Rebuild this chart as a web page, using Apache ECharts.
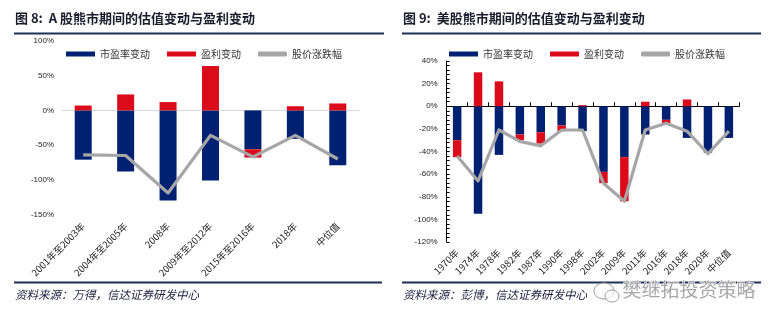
<!DOCTYPE html>
<html>
<head>
<meta charset="utf-8">
<script src="https://cdn.jsdelivr.net/npm/echarts@6/dist/echarts.min.js"></script>
<style>
  html, body { margin: 0; padding: 0; background: #fff; }
  #chart { width: 781px; height: 325px; }
</style>
</head>
<body>
<div id="chart"></div>
<script>
// A-share bear markets
const cnCategories = ['2001年至2003年', '2004年至2005年', '2008年', '2009年至2012年', '2015年至2016年', '2018年', '中位值'];
const cnPeChange = [-71, -88, -130, -101, -56, -41, -79];
const cnEarningsChange = [7, 23, 12, 64, -12, 6, 10];
const cnPriceChange = [-64, -65, -119, -36, -67, -36, -70];

// US bear markets
const usCategories = ['1970年', '1974年', '1978年', '1982年', '1987年', '1990年', '1998年', '2002年', '2009年', '2011年', '2016年', '2018年', '2020年', '中位值'];
const usPeChange = [-30, -95, -43, -25, -23, -17, -22, -58, -45, -25, -12, -28, -41, -28];
const usEarningsChange = [-15, 30, 22, -5, -10, -5, 1, -10, -39, 4, -3, 6, 0, 0];
const usPriceChange = [-44, -66, -21, -31, -35, -21, -21, -68, -84, -21, -15, -22, -42, -22];

const seriesNames = ['市盈率变动', '盈利变动', '股价涨跌幅'];

const NAVY = '#002072';
const RED = '#dc0b1c';
const GRAY = '#a6a6a6';
const RULE = '#1f2f55';
const CJK = '"Noto Sans CJK SC", "Liberation Sans", sans-serif';
const NUM = '"Liberation Sans", Arial, sans-serif';

const chart = echarts.init(document.getElementById('chart'), null, { renderer: 'canvas' });

function legendFor(left) {
  return {
    left: left, top: 44,
    itemWidth: 29, itemHeight: 5, itemGap: 17,
    textStyle: { fontFamily: CJK, fontSize: 10, color: '#333' },
    data: [
      { name: seriesNames[0], icon: 'rect' },
      { name: seriesNames[1], icon: 'rect' },
      { name: seriesNames[2], icon: 'roundRect' }
    ]
  };
}

function barSeries(name, data, color, xi, yi, stack, width) {
  return {
    name: name, type: 'bar', stack: stack, data: data,
    xAxisIndex: xi, yAxisIndex: yi, barWidth: width,
    itemStyle: { color: color }
  };
}

function lineSeries(name, data, xi, yi) {
  return {
    name: name, type: 'line', data: data,
    xAxisIndex: xi, yAxisIndex: yi,
    symbol: 'none', showSymbol: false,
    itemStyle: { color: GRAY },
    lineStyle: { color: GRAY, width: 3.2, join: 'round' },
    z: 5
  };
}

const option = {
  animation: false,
  backgroundColor: '#fff',
  legend: [legendFor(61), legendFor(444)],
  grid: [
    { left: 62, top: 41, width: 297, height: 173.5 },
    { left: 446.7, top: 61, width: 292.6, height: 181 }
  ],
  xAxis: [
    // left: labels along the bottom
    {
      type: 'category', gridIndex: 0, data: cnCategories, position: 'bottom',
      axisLine: { show: false, onZero: false }, axisTick: { show: false },
      axisLabel: { interval: 0, rotate: 45, margin: 10, fontFamily: CJK, fontSize: 9.5, color: '#222' }
    },
    // left: zero baseline
    {
      type: 'category', gridIndex: 0, data: cnCategories, position: 'bottom',
      axisLine: { show: true, onZero: true, lineStyle: { color: '#d9d9d9', width: 1 } },
      axisTick: { show: false }, axisLabel: { show: false }
    },
    // right: labels along the bottom
    {
      type: 'category', gridIndex: 1, data: usCategories, position: 'bottom',
      axisLine: { show: false, onZero: false }, axisTick: { show: false },
      axisLabel: { interval: 0, rotate: 45, margin: 9, fontFamily: CJK, fontSize: 9.5, color: '#222' }
    },
    // right: zero axis with upward ticks
    {
      type: 'category', gridIndex: 1, data: usCategories, position: 'bottom',
      axisLine: { show: true, onZero: true, lineStyle: { color: '#000', width: 1 } },
      axisTick: { show: true, inside: true, length: 4, interval: 0, lineStyle: { color: '#000' } },
      axisLabel: { show: false }
    }
  ],
  yAxis: [
    {
      type: 'value', gridIndex: 0, min: -150, max: 100, interval: 50,
      axisLine: { show: false }, axisTick: { show: false }, splitLine: { show: false },
      axisLabel: { formatter: '{value}%', fontFamily: NUM, fontSize: 8, color: '#222', margin: 8 }
    },
    {
      type: 'value', gridIndex: 1, min: -120, max: 40, interval: 20,
      axisLine: { show: true, lineStyle: { color: '#000', width: 1 } },
      axisTick: { show: true, inside: true, length: 3, lineStyle: { color: '#000' } },
      minorTick: { show: true, splitNumber: 5, length: 3, lineStyle: { color: '#000' } },
      splitLine: { show: false },
      axisLabel: { formatter: '{value}%', fontFamily: NUM, fontSize: 8, color: '#222', margin: 9 }
    }
  ],
  series: [
    barSeries(seriesNames[0], cnPeChange, NAVY, 0, 0, 'cn', 17),
    barSeries(seriesNames[1], cnEarningsChange, RED, 0, 0, 'cn', 17),
    lineSeries(seriesNames[2], cnPriceChange, 0, 0),
    barSeries(seriesNames[0], usPeChange, NAVY, 2, 1, 'us', 8.5),
    barSeries(seriesNames[1], usEarningsChange, RED, 2, 1, 'us', 8.5),
    lineSeries(seriesNames[2], usPriceChange, 2, 1)
  ],
  graphic: [
    // headings
    { type: 'text', left: 15, top: 12, style: { text: '图 8:  A 股熊市期间的估值变动与盈利变动', font: 'bold 13px ' + CJK, fill: '#1c1c2c' } },
    { type: 'text', left: 403, top: 12, style: { text: '图 9:  美股熊市期间的估值变动与盈利变动', font: 'bold 13px ' + CJK, fill: '#1c1c2c' } },
    // heading rules
    { type: 'rect', shape: { x: 14, y: 32.5, width: 370, height: 2 }, style: { fill: RULE } },
    { type: 'rect', shape: { x: 402, y: 32.5, width: 359, height: 2 }, style: { fill: RULE } },
    // footer rules
    { type: 'rect', shape: { x: 14, y: 281.5, width: 368, height: 2 }, style: { fill: RULE } },
    { type: 'rect', shape: { x: 402, y: 281.5, width: 359, height: 2 }, style: { fill: RULE } },
    // sources
    { type: 'text', left: 15, top: 289, style: { text: '资料来源：万得，信达证券研发中心', font: 'italic 11.5px ' + CJK, fill: '#1c1c3c' } },
    { type: 'text', left: 403, top: 289, style: { text: '资料来源：彭博，信达证券研发中心', font: 'italic 11.5px ' + CJK, fill: '#1c1c3c' } },
    // account mark
    { type: 'ellipse', shape: { cx: 604, cy: 291, rx: 10, ry: 8 }, style: { fill: 'rgba(255,255,255,0.6)', stroke: '#9a9a9a', lineWidth: 1 } },
    { type: 'ellipse', shape: { cx: 612, cy: 296, rx: 7, ry: 6 }, style: { fill: 'rgba(255,255,255,0.6)', stroke: '#9a9a9a', lineWidth: 1 } },
    { type: 'text', left: 622, top: 280, style: { text: '樊继拓投资策略', font: '19px ' + CJK, fill: '#a8a8a8', stroke: '#ffffff', lineWidth: 1 } }
  ]
};

chart.setOption(option);
</script>
</body>
</html>
